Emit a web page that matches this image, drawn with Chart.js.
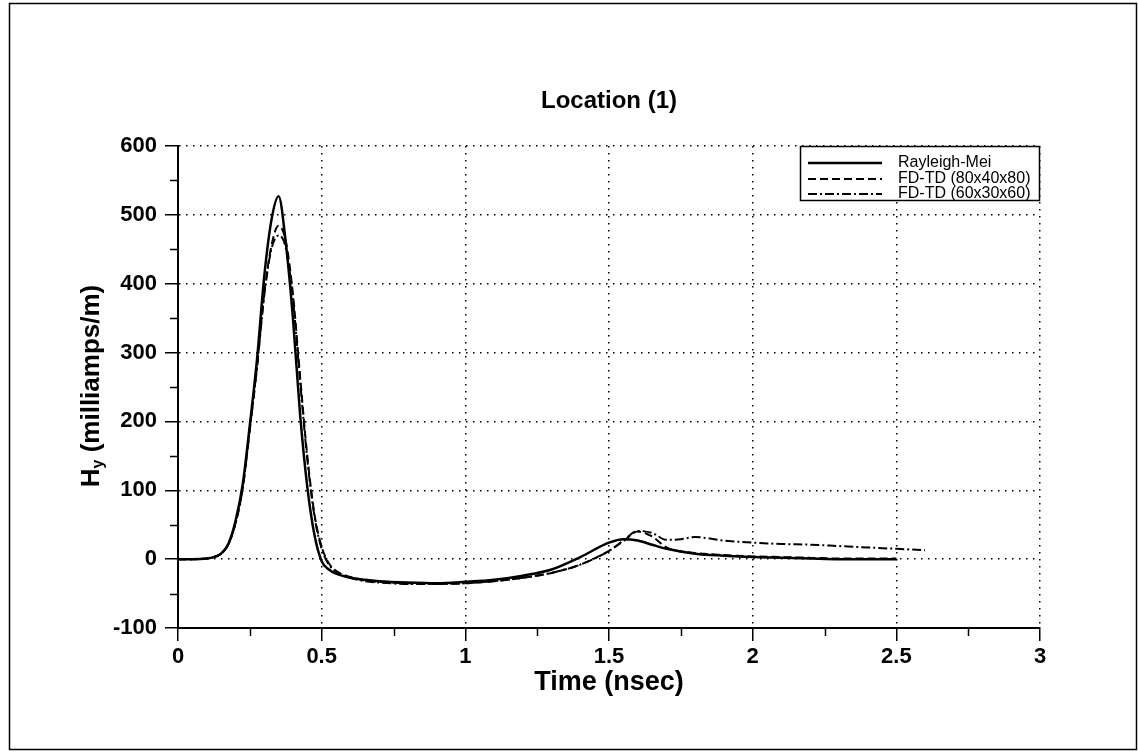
<!DOCTYPE html>
<html>
<head>
<meta charset="utf-8">
<script src="https://cdn.jsdelivr.net/npm/chart.js@4.4.0/dist/chart.umd.min.js"></script>
<style>
  html, body { margin: 0; padding: 0; background: #fff; }
</style>
</head>
<body>
<canvas id="hyChart" width="1138" height="755"></canvas>
<script>
// time axis (nsec) and H_y values (milliamps/m)
const timeA = [0, 0.05, 0.1, 0.125, 0.15, 0.175, 0.2, 0.225, 0.25, 0.275, 0.3, 0.325, 0.35, 0.375, 0.4, 0.425, 0.45, 0.475, 0.5, 0.525, 0.55, 0.6, 0.65, 0.7, 0.8, 0.9, 1.0, 1.1, 1.2, 1.3, 1.4, 1.5, 1.55, 1.6, 1.65, 1.7, 1.8, 1.9, 2.0, 2.1, 2.2, 2.3, 2.4, 2.5];
const rayleighMei = [0, 0, 1, 3, 8, 22, 55, 108, 195, 290, 410, 492, 527, 460, 350, 210, 105, 35, -3, -15, -21, -27, -30, -32, -34, -35, -33, -30, -24, -15, 3, 24, 29, 27, 21, 15, 8, 5, 3, 2, 1, 0, 0, 0];
const fdtd80 = [0, 0, 1, 3, 8, 21, 52, 103, 190, 280, 385, 455, 484, 462, 385, 265, 150, 65, 18, -6, -17, -26, -31, -33, -35, -36, -35, -32, -27, -20, -8, 12, 26, 40, 33, 17, 9, 6, 4, 3, 2, 1, 1, 1];
const timeC = [0, 0.05, 0.1, 0.125, 0.15, 0.175, 0.2, 0.225, 0.25, 0.275, 0.3, 0.325, 0.35, 0.375, 0.4, 0.425, 0.45, 0.475, 0.5, 0.525, 0.55, 0.6, 0.65, 0.7, 0.8, 0.9, 1.0, 1.1, 1.2, 1.3, 1.4, 1.5, 1.55, 1.6, 1.65, 1.7, 1.75, 1.8, 1.9, 2.0, 2.1, 2.2, 2.3, 2.4, 2.5, 2.6];
const fdtd60 = [0, 0, 1, 3, 8, 21, 52, 102, 188, 278, 382, 450, 470, 452, 378, 258, 145, 62, 15, -8, -18, -27, -32, -34, -36, -36, -35, -32, -27, -20, -8, 12, 27, 41, 38, 28, 29, 32, 27, 24, 22, 21, 19, 17, 15, 13];

const xTicks = [0, 0.5, 1, 1.5, 2, 2.5, 3];
const yTicks = [-100, 0, 100, 200, 300, 400, 500, 600];
const xMinor = [0.25, 0.75, 1.25, 1.75, 2.25, 2.75];
const yMinor = [-50, 50, 150, 250, 350, 450, 550];

const FONT = "'Liberation Sans', Arial, Helvetica, sans-serif";

function pts(t, v) {
  return t.map((x, i) => ({ x: x, y: v[i] }));
}

// minor ticks, y title with subscript, legend box, page frame
const extras = {
  id: 'extras',
  afterDraw(chart) {
    const { ctx, chartArea: a, scales: { x, y } } = chart;
    ctx.save();
    ctx.strokeStyle = '#000';
    ctx.lineWidth = 1.5;
    ctx.beginPath();
    xMinor.forEach(v => {
      const px = Math.round(x.getPixelForValue(v)) + 0.5;
      ctx.moveTo(px, a.bottom);
      ctx.lineTo(px, a.bottom + 8);
    });
    yMinor.forEach(v => {
      const py = Math.round(y.getPixelForValue(v)) + 0.5;
      ctx.moveTo(a.left - 8, py);
      ctx.lineTo(a.left, py);
    });
    ctx.stroke();

    // y axis title: H_y (milliamps/m)
    ctx.save();
    ctx.translate(92, 386);
    ctx.rotate(-Math.PI / 2);
    ctx.fillStyle = '#000';
    ctx.textBaseline = 'middle';
    const big = 'bold 26px ' + FONT, small = 'bold 16px ' + FONT;
    ctx.font = big;
    const wH = ctx.measureText('H').width;
    const rest = ' (milliamps/m)';
    const wR = ctx.measureText(rest).width;
    ctx.font = small;
    const wy = ctx.measureText('y').width;
    let sx = -(wH + wy + wR) / 2;
    ctx.font = big;
    ctx.textAlign = 'left';
    ctx.fillText('H', sx, 0);
    ctx.font = small;
    ctx.fillText('y', sx + wH, 7);
    ctx.font = big;
    ctx.fillText(rest, sx + wH + wy, 0);
    ctx.restore();

    // legend
    const box = { left: 800, top: a.top, right: a.right, bottom: 201 };
    ctx.fillStyle = '#fff';
    ctx.fillRect(box.left, box.top, box.right - box.left, box.bottom - box.top);
    ctx.lineWidth = 1.5;
    ctx.strokeStyle = '#000';
    ctx.strokeRect(box.left + 0.5, box.top + 0.5, box.right - box.left - 1, box.bottom - box.top - 1);
    const rows = [163, 179, 194];
    ctx.font = '16px ' + FONT;
    ctx.textAlign = 'left';
    ctx.textBaseline = 'middle';
    chart.data.datasets.forEach((ds, i) => {
      ctx.save();
      ctx.lineWidth = ds.borderWidth;
      ctx.setLineDash(ds.borderDash || []);
      ctx.beginPath();
      ctx.moveTo(808, rows[i]);
      ctx.lineTo(882, rows[i]);
      ctx.stroke();
      ctx.restore();
      ctx.fillStyle = '#000';
      ctx.fillText(ds.label, 898, rows[i]);
    });

    // outer frame
    ctx.lineWidth = 1.5;
    ctx.strokeStyle = '#000';
    ctx.strokeRect(9.5, 3.5, 1127, 746);
    ctx.restore();
  }
};

const ctx = document.getElementById('hyChart').getContext('2d');
Chart.defaults.font.family = FONT;
Chart.defaults.color = '#000';

const hyChart = new Chart(ctx, {
  type: 'line',
  data: {
    datasets: [{
      label: 'Rayleigh-Mei',
      data: pts(timeA, rayleighMei),
      borderColor: '#000',
      borderWidth: 2.5,
      borderDash: [],
      pointRadius: 0,
      cubicInterpolationMode: 'monotone'
    }, {
      label: 'FD-TD (80x40x80)',
      data: pts(timeA, fdtd80),
      borderColor: '#000',
      borderWidth: 2,
      borderDash: [8, 4],
      pointRadius: 0,
      cubicInterpolationMode: 'monotone'
    }, {
      label: 'FD-TD (60x30x60)',
      data: pts(timeC, fdtd60),
      borderColor: '#000',
      borderWidth: 2,
      borderDash: [9, 3, 2, 3],
      pointRadius: 0,
      cubicInterpolationMode: 'monotone'
    }]
  },
  options: {
    responsive: false,
    animation: false,
    layout: { padding: { left: 0, right: 98, top: 87, bottom: 0 } },
    plugins: {
      legend: { display: false },
      tooltip: { enabled: false },
      title: {
        display: true,
        fullSize: false, // centre the title over the plot area only
        text: 'Location (1)',
        color: '#000',
        font: { size: 24, weight: 'bold' },
        padding: { top: 0, bottom: 30.2 }
      }
    },
    scales: {
      x: {
        type: 'linear',
        min: 0,
        max: 3,
        afterBuildTicks: s => { s.ticks = xTicks.map(v => ({ value: v })); },
        afterFit: s => { s.height = 127; },
        ticks: {
          font: { size: 22, weight: 'bold' },
          color: '#000',
          padding: 3,
          maxRotation: 0,
          callback: v => String(v)
        },
        grid: {
          color: c => (c.tick && c.tick.value === 0) ? 'rgba(0,0,0,0)' : '#000',
          lineWidth: 1.5,
          tickColor: '#000',
          tickWidth: 1.5,
          tickLength: 13
        },
        border: { display: true, color: '#000', width: 2, dash: [1.5, 5.5] },
        title: {
          display: true,
          text: 'Time (nsec)',
          color: '#000',
          font: { size: 27, weight: 'bold' },
          padding: { top: 0, bottom: 56 }
        }
      },
      y: {
        min: -100,
        max: 600,
        afterBuildTicks: s => { s.ticks = yTicks.map(v => ({ value: v })); },
        afterFit: s => { s.width = 178; },
        ticks: {
          font: { size: 22, weight: 'bold' },
          color: '#000',
          padding: 8,
          callback: v => String(v)
        },
        grid: {
          color: c => (c.tick && c.tick.value === -100) ? 'rgba(0,0,0,0)' : '#000',
          lineWidth: 1.5,
          tickColor: '#000',
          tickWidth: 1.5,
          tickLength: 13
        },
        border: { display: true, color: '#000', width: 2, dash: [1.5, 5.5] }
      }
    }
  },
  plugins: [extras]
});
</script>
</body>
</html>
